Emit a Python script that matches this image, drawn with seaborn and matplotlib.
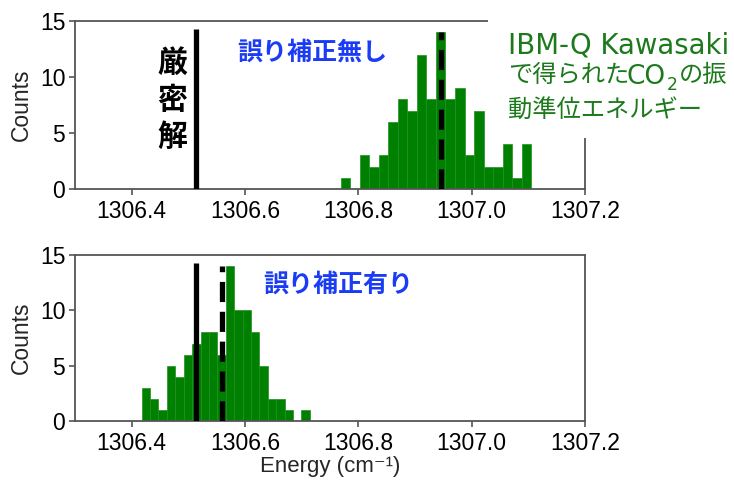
import numpy as np
import pandas as pd
import matplotlib
matplotlib.use("Agg")
import matplotlib.pyplot as plt
from matplotlib.patches import Rectangle
import seaborn as sns

# ---- data ----
top_counts = [1, 0, 3, 2, 3, 6, 8, 7, 12, 8, 14, 8, 9, 3, 7, 2, 2, 4, 1, 4]
top_range = (1306.769, 1307.105)
bot_counts = [3, 2, 1, 5, 4, 6, 7, 8, 8, 6, 14, 10, 10, 8, 5, 2, 2, 1, 0, 1]
bot_range = (1306.4176, 1306.7145)
exact_energy = 1306.513
top_mean = 1306.945
bot_mean = 1306.559
exact_line_height = 14.25
mean_line_height = 14.0
xticks = [1306.4, 1306.6, 1306.8, 1307.0, 1307.2]
yticks = [0, 5, 10, 15]

sns.set_style("ticks")
plt.rcParams['font.family'] = ['Liberation Sans', 'DejaVu Sans']
plt.rcParams['axes.edgecolor'] = '#555555'
plt.rcParams['xtick.color'] = '#555555'
plt.rcParams['ytick.color'] = '#555555'
plt.rcParams['xtick.labelcolor'] = 'black'
plt.rcParams['ytick.labelcolor'] = 'black'
plt.rcParams['lines.scale_dashes'] = False

JP = ['Noto Sans CJK JP', 'DejaVu Sans']
LAT = ['DejaVu Sans', 'Noto Sans CJK JP']

fig = plt.figure(figsize=(7.34, 4.83), dpi=100)
W, H = 734, 483
def ax_rect(l, r, t, b):
    return [l / W, 1 - b / H, (r - l) / W, (b - t) / H]

ax1 = fig.add_axes(ax_rect(75, 585, 21, 189))
ax2 = fig.add_axes(ax_rect(75, 585, 255, 421))

FS = 16.5

def draw(ax, counts, rng, mean):
    n = len(counts)
    width = (rng[1] - rng[0]) / n
    centers = [rng[0] + width * (i + 0.5) for i in range(n)]
    df = pd.DataFrame({"energy": centers, "count": counts})
    sns.histplot(data=df, x="energy", weights="count", bins=n, binrange=rng,
                 ax=ax, color="#008000", edgecolor="#1f8f1f", linewidth=0.5,
                 alpha=1.0, zorder=2)
    ax.plot([exact_energy, exact_energy], [0, exact_line_height],
            color="black", lw=3.8, zorder=4, solid_capstyle='butt')
    ax.plot([mean, mean], [0, mean_line_height], color="black", lw=3.8,
            zorder=4, dashes=(14.5, 7.0), dash_capstyle='butt')
    ax.set_xlim(1306.3, 1307.2)
    ax.set_ylim(0, 15)
    ax.set_xticks(xticks)
    ax.set_xticklabels([f"{v:.1f}" for v in xticks])
    ax.set_yticks(yticks)
    ax.tick_params(labelsize=FS, length=4, width=1.2, pad=3)
    ax.tick_params(axis='x', pad=4)
    for s in ax.spines.values():
        s.set_linewidth(1.3)
        s.set_color('#555555')
    ax.set_ylabel("Counts", fontsize=FS, labelpad=5)
    ax.set_xlabel("")

draw(ax1, top_counts, top_range, top_mean)
draw(ax2, bot_counts, bot_range, bot_mean)
ax2.set_xlabel("Energy (cm⁻¹)", fontsize=16, labelpad=0.5,
               family=['Liberation Sans', 'DejaVu Sans'])

# white box covering the upper right of the top panel
fig.patches.append(Rectangle((488 / W, 1 - 138 / H), 1 - 488 / W, 138 / H,
                             transform=fig.transFigure, facecolor='white',
                             edgecolor='none', zorder=5))

# annotations
for ch, yc in zip(["厳", "密", "解"], [63, 100, 137]):
    fig.text(172 / W, 1 - yc / H, ch, family=JP, fontsize=21.5, fontweight='bold',
             color='black', ha='center', va='center', zorder=6)

fig.text(312 / W, 1 - 53 / H, "誤り補正無し", family=JP, fontsize=18,
         fontweight='bold', color='#1a3cf5', ha='center', va='center', zorder=6)
fig.text(338 / W, 1 - 285 / H, "誤り補正有り", family=JP, fontsize=18,
         fontweight='bold', color='#1a3cf5', ha='center', va='center', zorder=6)

green = '#1c7a1c'
def gtext(x, y, s, fam, size):
    fig.text(x / W, 1 - y / H, s, family=fam, fontsize=size, color=green,
             ha='left', va='baseline', zorder=6)

gtext(508, 53.5, "IBM-Q Kawasaki", LAT, 19.8)
gtext(508, 82, "で得られた", JP, 17.5)
gtext(627, 83.5, "CO", LAT, 19)
gtext(667, 90, "2", LAT, 12.5)
gtext(679, 82, "の振", JP, 17.5)
gtext(508, 116.5, "動準位エネルギー", JP, 17.5)

fig.savefig("out.png", dpi=100)
